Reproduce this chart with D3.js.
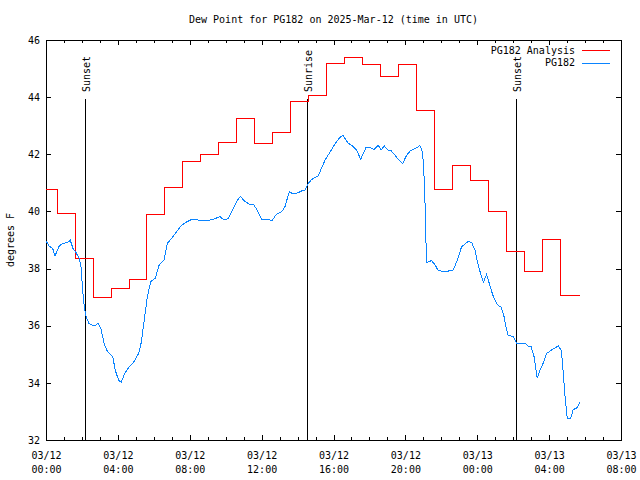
<!DOCTYPE html>
<html>
<head>
<meta charset="utf-8">
<script src="https://cdn.jsdelivr.net/npm/d3@7"></script>
<style>
  html, body { margin: 0; padding: 0; background: #fff; }
  svg { display: block; }
  text { font-family: "DejaVu Sans Mono", "Liberation Mono", monospace; font-size: 10px; fill: #000; }
</style>
</head>
<body>
<svg id="chart" width="640" height="480"></svg>
<script>
// ---------------- data ----------------
const titleText = "Dew Point for PG182 on 2025-Mar-12 (time in UTC)";
const yLabel = "degrees F";
const seriesNames = ["PG182 Analysis", "PG182"];
const seriesColors = ["#ff0000", "#0a84ff"];

// hours after 2025-03-12 00:00 UTC
const analysisHours = [0, 0.62, 1.62, 2.62, 3.62, 4.62, 5.62, 6.62, 7.62, 8.62, 9.62, 10.62, 11.62,
  12.62, 13.62, 14.62, 15.62, 16.62, 17.62, 18.62, 19.62, 20.62, 21.62, 22.62, 23.62, 24.62,
  25.62, 26.62, 27.62, 28.62, 29.7];
const analysisValues = [40.77, 39.93, 38.35, 37.0, 37.31, 37.62, 39.91, 40.84, 41.75, 42.0, 42.42, 43.26, 42.38,
  42.78, 43.86, 44.06, 45.18, 45.40, 45.15, 44.74, 45.15, 43.54, 40.77, 41.6, 41.1, 39.99,
  38.6, 37.91, 39.02, 37.06, 37.06];

const obsHours = [0, 0.17, 0.37, 0.50, 0.74, 0.93, 1.19, 1.35, 1.50, 1.67, 1.85, 1.95, 2.04, 2.13, 2.23, 2.39,
  2.69, 2.89, 3.06, 3.23, 3.39, 3.71, 3.86, 4.05, 4.19, 4.38, 4.60, 4.86, 5.16, 5.30, 5.47, 5.64,
  5.83, 6.08, 6.30, 6.57, 6.75, 7.00, 7.27, 7.50, 7.79, 8.11, 8.39, 8.61, 8.94, 9.31, 9.68, 9.87,
  10.14, 10.42, 10.65, 10.83, 11.02, 11.35, 11.54, 11.73, 12.00, 12.37, 12.56, 12.84, 13.12, 13.30,
  13.54, 13.76, 14.04, 14.23, 14.41, 14.60, 14.79, 14.97, 15.15, 15.29, 15.53, 15.80, 16.08, 16.32,
  16.51, 16.82, 17.01, 17.29, 17.51, 17.81, 18.07, 18.27, 18.49, 18.64, 18.83, 19.02, 19.20, 19.42,
  19.60, 19.85, 20.07, 20.26, 20.48, 20.66, 20.81, 20.96, 21.07, 21.15, 21.19, 21.46, 21.65, 21.83,
  22.20, 22.44, 22.67, 22.89, 23.13, 23.32, 23.50, 23.69, 23.87, 24.02, 24.19, 24.34, 24.52, 24.67,
  24.86, 25.11, 25.34, 25.49, 25.60, 25.71, 26.00, 26.19, 26.66, 26.84, 26.99, 27.16, 27.34, 27.49,
  27.71, 27.86, 28.14, 28.51, 28.68, 28.79, 28.88, 29.01, 29.20, 29.34, 29.53, 29.72];
const obsValues = [38.97, 38.79, 38.71, 38.44, 38.80, 38.88, 38.91, 38.99, 38.71, 38.56, 38.35, 38.04, 37.25, 36.67, 36.32, 36.08,
  35.99, 36.08, 35.90, 35.38, 35.13, 34.92, 34.43, 34.08, 34.03, 34.33, 34.54, 34.71, 35.03, 35.41, 36.20, 37.02,
  37.54, 37.66, 38.13, 38.30, 38.88, 39.06, 39.29, 39.49, 39.62, 39.72, 39.72, 39.67, 39.68, 39.72, 39.82, 39.72,
  39.74, 40.11, 40.40, 40.52, 40.38, 40.23, 40.25, 40.07, 39.73, 39.72, 39.67, 39.91, 39.99, 40.17,
  40.69, 40.61, 40.66, 40.72, 40.73, 40.98, 41.12, 41.19, 41.24, 41.45, 41.80, 42.07, 42.36, 42.56,
  42.67, 42.38, 42.32, 42.15, 41.82, 42.24, 42.23, 42.17, 42.32, 42.15, 42.29, 42.15, 42.13, 41.97,
  41.82, 41.68, 41.97, 42.11, 42.18, 42.24, 42.31, 42.06, 40.87, 38.88, 38.21, 38.28, 38.13, 37.93,
  37.89, 37.92, 37.95, 38.30, 38.77, 38.86, 38.95, 38.91, 38.65, 38.21, 37.81, 37.52, 37.80, 37.48,
  37.08, 36.74, 36.64, 36.32, 35.97, 35.67, 35.62, 35.39, 35.39, 35.27, 35.29, 34.92, 34.16, 34.45,
  34.74, 35.03, 35.15, 35.29, 35.13, 34.33, 33.57, 32.76, 32.76, 33.07, 33.11, 33.32];

const sunEvents = [
  { label: "Sunset", time: "2025-03-12T02:11:00Z" },
  { label: "Sunrise", time: "2025-03-12T14:33:00Z" },
  { label: "Sunset", time: "2025-03-13T02:11:00Z" }
];

const xStart = "2025-03-12T00:00:00Z";
const xEnd = "2025-03-13T08:00:00Z";
const yTicks = [32, 34, 36, 38, 40, 42, 44, 46];

// ---------------- drawing ----------------
const svg = d3.select("#chart");
const L = 46, R = 621, T = 40, B = 440;
const t0 = new Date(xStart).getTime();
const toDate = h => new Date(t0 + h * 3600e3);

const x = d3.scaleUtc().domain([new Date(xStart), new Date(xEnd)]).range([L, R]);
const y = d3.scaleLinear().domain([32, 46]).range([B, T]);

const majorTicks = d3.utcHour.every(4).range(new Date(xStart), new Date(new Date(xEnd).getTime() + 1));
const minorTicks = d3.utcHour.every(1).range(new Date(xStart), new Date(new Date(xEnd).getTime() + 1));

// minor ticks
svg.append("g").attr("transform", `translate(0,${B})`)
  .call(d3.axisBottom(x).tickValues(minorTicks).tickSizeInner(-3).tickSizeOuter(0).tickFormat(""))
  .call(g => g.select(".domain").remove());
svg.append("g").attr("transform", `translate(0,${T})`)
  .call(d3.axisTop(x).tickValues(minorTicks).tickSizeInner(-3).tickSizeOuter(0).tickFormat(""))
  .call(g => g.select(".domain").remove());

// major x ticks
const fmtDate = d3.utcFormat("%m/%d"), fmtTime = d3.utcFormat("%H:%M");
const gxb = svg.append("g").attr("transform", `translate(0,${B})`)
  .call(d3.axisBottom(x).tickValues(majorTicks).tickSizeInner(-5).tickSizeOuter(0).tickFormat(""));
gxb.selectAll(".tick").append("text")
  .attr("text-anchor", "middle")
  .call(t => {
    t.append("tspan").attr("x", 0).attr("y", 19).text(d => fmtDate(d));
    t.append("tspan").attr("x", 0).attr("y", 33).text(d => fmtTime(d));
  });
svg.append("g").attr("transform", `translate(0,${T})`)
  .call(d3.axisTop(x).tickValues(majorTicks).tickSizeInner(-5).tickSizeOuter(0).tickFormat(""));

// y axes
svg.append("g").attr("transform", `translate(${L},0)`)
  .call(d3.axisLeft(y).tickValues(yTicks).tickSizeInner(-5).tickSizeOuter(0).tickPadding(6).tickFormat(d3.format("d")));
svg.append("g").attr("transform", `translate(${R},0)`)
  .call(d3.axisRight(y).tickValues(yTicks).tickSizeInner(-5).tickSizeOuter(0).tickFormat(""));

svg.selectAll(".domain, .tick line").attr("stroke", "#000").attr("shape-rendering", "crispEdges");
svg.selectAll("g text").attr("font-size", null).attr("font-family", null).attr("fill", "#000");

// sun event lines
sunEvents.forEach(ev => {
  const xp = Math.round(x(new Date(ev.time))) + 0.5;
  svg.append("line").attr("x1", xp).attr("x2", xp).attr("y1", 99).attr("y2", B)
    .attr("stroke", "#000").attr("shape-rendering", "crispEdges");
  svg.append("text").attr("transform", `translate(${xp + 4.5},92) rotate(-90)`)
    .attr("text-anchor", "start").text(ev.label);
});

// series
const analysisData = analysisHours.map((h, i) => [toDate(h), analysisValues[i]]);
const obsData = obsHours.map((h, i) => [toDate(h), obsValues[i]]);

svg.append("path").datum(analysisData)
  .attr("fill", "none").attr("stroke", seriesColors[0]).attr("stroke-width", 1)
  .attr("shape-rendering", "crispEdges")
  .attr("d", d3.line().x(d => x(d[0])).y(d => y(d[1])).curve(d3.curveStepAfter));

svg.append("path").datum(obsData)
  .attr("fill", "none").attr("stroke", seriesColors[1]).attr("stroke-width", 1)
  .attr("shape-rendering", "crispEdges")
  .attr("d", d3.line().x(d => x(d[0])).y(d => y(d[1])));

// title & labels
svg.append("text").attr("x", (L + R) / 2).attr("y", 23).attr("text-anchor", "middle").text(titleText);
svg.append("text").attr("transform", `translate(14,${(T + B) / 2}) rotate(-90)`)
  .attr("text-anchor", "middle").text(yLabel);

// legend
const legend = svg.append("g");
seriesNames.forEach((name, i) => {
  const ly = 50 + i * 12.5;
  legend.append("text").attr("x", 575).attr("y", ly).attr("dy", "0.35em").attr("text-anchor", "end").text(name);
  legend.append("line").attr("x1", 582).attr("x2", 610).attr("y1", Math.round(ly) + 0.5).attr("y2", Math.round(ly) + 0.5)
    .attr("stroke", seriesColors[i]).attr("shape-rendering", "crispEdges");
});
</script>
</body>
</html>
